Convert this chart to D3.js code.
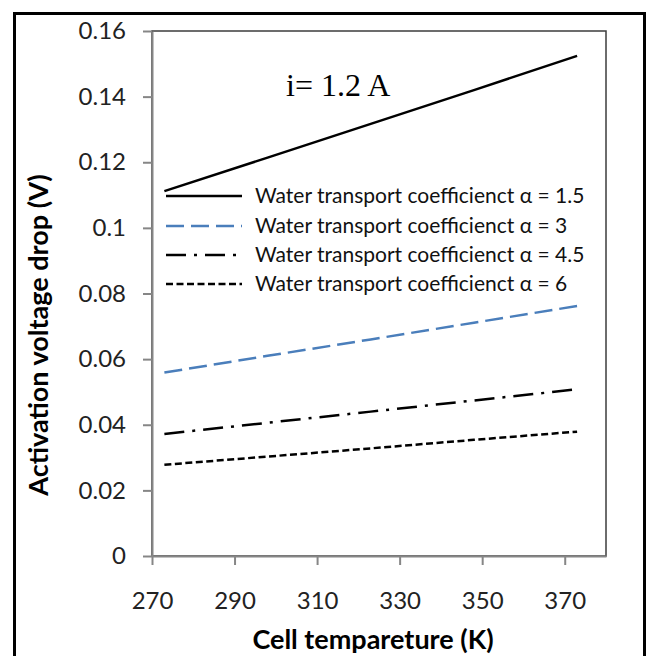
<!DOCTYPE html>
<html lang="en">
  <head>
    <meta charset="UTF-8" />
    <title>Activation voltage drop vs cell temperature</title>
    <script src="https://d3js.org/d3.v7.min.js"></script>
    <style>
      body {
        margin: 0;
        background: #fff;
      }
      svg {
        display: block;
      }
      .axis text {
        font-family: Lato, sans-serif;
        font-size: 24px;
        fill: #222;
      }
      .axis path,
      .axis line {
        stroke: #868686;
        stroke-width: 2;
      }
    </style>
  </head>
  <body>
    <div id="chart"></div>
    <script>
      // cell temperature (K)
      const temps = [273, 298, 323, 348, 373];
      // activation voltage drop (V), one list per alpha
      const alpha15 = [0.1112, 0.1214, 0.1317, 0.142, 0.1524];
      const alpha3 = [0.0559, 0.061, 0.066, 0.0711, 0.0762];
      const alpha45 = [0.0372, 0.0406, 0.044, 0.0474, 0.0508];
      const alpha6 = [0.0278, 0.0303, 0.0328, 0.0354, 0.0379];
      const seriesNames = [
        'Water transport coefficienct α = 1.5',
        'Water transport coefficienct α = 3',
        'Water transport coefficienct α = 4.5',
        'Water transport coefficienct α = 6',
      ];
      const xTicks = [270, 290, 310, 330, 350, 370];
      const yTicks = [0, 0.02, 0.04, 0.06, 0.08, 0.1, 0.12, 0.14, 0.16];

      const series = [alpha15, alpha3, alpha45, alpha6].map((vals, i) => ({
        name: seriesNames[i],
        points: temps.map((t, j) => [t, vals[j]]),
      }));
      const styles = [
        { color: '#000', dash: null },
        { color: '#4a7ebb', dash: '18,7' },
        { color: '#000', dash: '20,8,3,8' },
        { color: '#000', dash: '7,3.5' },
      ];

      const W = 646,
        H = 656;
      const pLeft = 152,
        pRight = 606,
        pTop = 31,
        pBottom = 556;

      const svg = d3
        .select('#chart')
        .append('svg')
        .attr('width', W)
        .attr('height', H);

      svg.append('rect').attr('width', W).attr('height', H).attr('fill', '#fff');

      // outer frame (bottom edge falls off the picture)
      svg
        .append('rect')
        .attr('x', 14.5)
        .attr('y', 13.5)
        .attr('width', 630)
        .attr('height', 700)
        .attr('fill', 'none')
        .attr('stroke', '#000')
        .attr('stroke-width', 3);

      const x = d3.scaleLinear().domain([270, 380]).range([pLeft, pRight]);
      const y = d3.scaleLinear().domain([0, 0.16]).range([pBottom, pTop]);

      // plot area border
      svg
        .append('rect')
        .attr('x', pLeft)
        .attr('y', pTop)
        .attr('width', pRight - pLeft)
        .attr('height', pBottom - pTop)
        .attr('fill', 'none')
        .attr('stroke', '#3c3c3c')
        .attr('stroke-width', 1.5);

      svg
        .append('g')
        .attr('class', 'axis')
        .attr('transform', `translate(0,${pBottom})`)
        .call(
          d3
            .axisBottom(x)
            .tickValues(xTicks)
            .tickSize(9)
            .tickSizeOuter(0)
            .tickPadding(27)
            .tickFormat(d3.format('d')),
        );

      svg
        .append('g')
        .attr('class', 'axis')
        .attr('transform', `translate(${pLeft},0)`)
        .call(
          d3
            .axisLeft(y)
            .tickValues(yTicks)
            .tickSize(9)
            .tickSizeOuter(0)
            .tickPadding(17)
            .tickFormat((d) => String(+d.toFixed(2))),
        );

      const line = d3
        .line()
        .x((d) => x(d[0]))
        .y((d) => y(d[1]));

      svg
        .selectAll('path.series')
        .data(series)
        .join('path')
        .attr('class', 'series')
        .attr('d', (d) => line(d.points))
        .attr('fill', 'none')
        .attr('stroke', (d, i) => styles[i].color)
        .attr('stroke-width', 2.5)
        .attr('stroke-dasharray', (d, i) => styles[i].dash);

      // legend
      const rowY = [196, 226, 255, 284];
      const lg = svg
        .selectAll('g.legend')
        .data(series)
        .join('g')
        .attr('class', 'legend')
        .attr('transform', (d, i) => `translate(0,${rowY[i]})`);
      lg.append('line')
        .attr('x1', 166)
        .attr('x2', 242)
        .attr('stroke', (d, i) => styles[i].color)
        .attr('stroke-width', 2.5)
        .attr('stroke-dasharray', (d, i) => styles[i].dash);
      lg.append('text')
        .attr('x', 255)
        .attr('dy', '0.35em')
        .attr('font-family', 'Lato, sans-serif')
        .attr('font-size', 21)
        .attr('fill', '#111')
        .text((d) => d.name);

      svg
        .append('text')
        .attr('x', 286)
        .attr('y', 96)
        .attr('font-family', '"Liberation Serif", serif')
        .attr('font-size', 32)
        .text('i= 1.2 A');

      // axis titles
      svg
        .append('text')
        .attr('x', 373)
        .attr('y', 649)
        .attr('text-anchor', 'middle')
        .attr('font-family', 'Lato, sans-serif')
        .attr('font-weight', 'bold')
        .attr('font-size', 27)
        .text('Cell tempareture (K)');

      svg
        .append('text')
        .attr('transform', 'translate(48,335) rotate(-90)')
        .attr('text-anchor', 'middle')
        .attr('font-family', 'Lato, sans-serif')
        .attr('font-weight', 'bold')
        .attr('font-size', 27)
        .text('Activation voltage drop (V)');
    </script>
  </body>
</html>
